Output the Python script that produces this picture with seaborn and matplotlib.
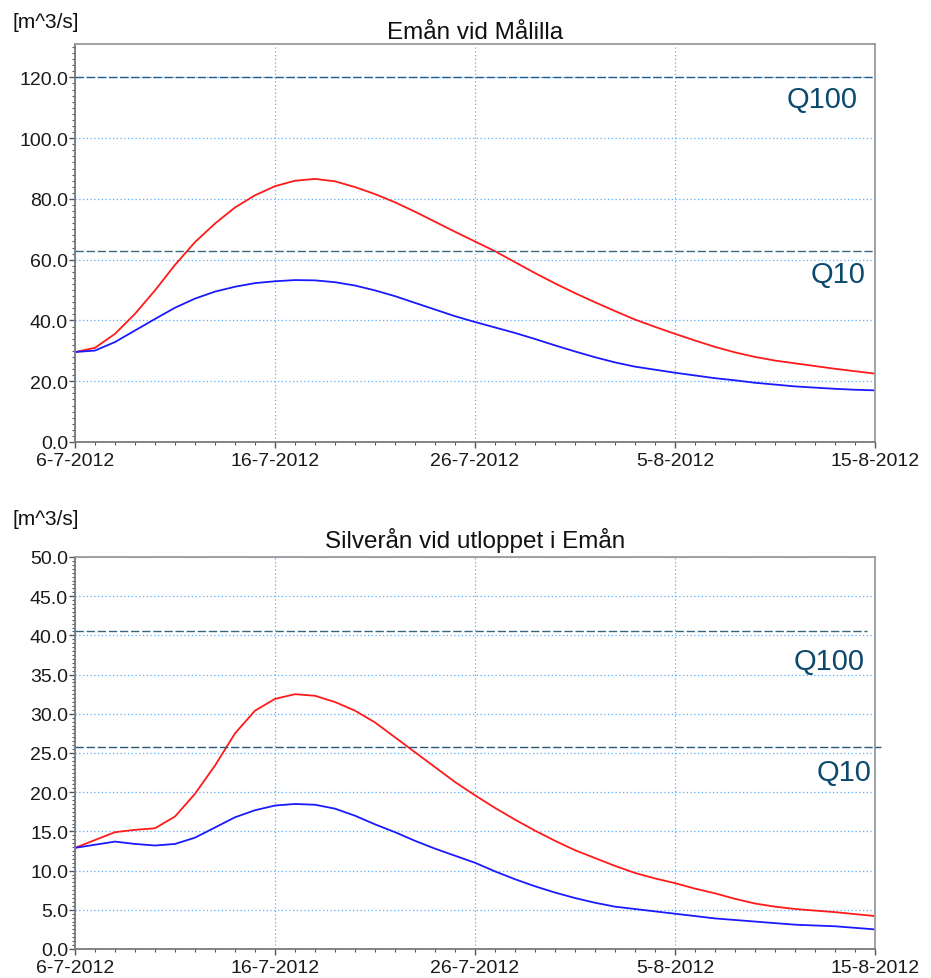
import numpy as np
import pandas as pd
import matplotlib
matplotlib.use("Agg")
import matplotlib.pyplot as plt
from matplotlib.ticker import MultipleLocator, FixedLocator, FixedFormatter
import seaborn as sns

# ---------------- data ----------------
days = list(range(41))  # days since 6-7-2012
tick_days = [0, 10, 20, 30, 40]
tick_labels = ["6-7-2012", "16-7-2012", "26-7-2012", "5-8-2012", "15-8-2012"]

top_title = "Emån vid Målilla"
top_red = [29.6, 31.0, 35.6, 42.2, 49.9, 58.3, 65.8, 71.9, 77.2, 81.2,
           84.2, 86.0, 86.6, 85.8, 83.9, 81.6, 78.9, 75.8, 72.5, 69.2,
           66.0, 62.8, 59.2, 55.6, 52.2, 49.0, 46.0, 43.1, 40.3, 37.9,
           35.6, 33.4, 31.3, 29.5, 28.0, 26.8, 25.9, 25.0, 24.1, 23.3, 22.5]
top_blue = [29.6, 30.1, 32.9, 36.7, 40.5, 44.2, 47.2, 49.5, 51.1, 52.3,
            52.9, 53.3, 53.2, 52.6, 51.5, 49.9, 48.0, 45.8, 43.6, 41.4,
            39.5, 37.7, 35.9, 33.9, 31.8, 29.8, 27.9, 26.2, 24.8, 23.8,
            22.8, 21.9, 21.0, 20.3, 19.5, 18.9, 18.3, 17.9, 17.5, 17.2, 17.0]
top_q100 = 120.0
top_q10 = 62.8

bot_title = "Silverån vid utloppet i Emån"
bot_red = [12.9, 13.9, 14.9, 15.2, 15.4, 16.9, 19.8, 23.4, 27.5, 30.4,
           31.9, 32.5, 32.3, 31.5, 30.4, 28.9, 27.0, 25.1, 23.2, 21.3,
           19.6, 18.0, 16.5, 15.1, 13.8, 12.6, 11.6, 10.6, 9.7, 9.0,
           8.4, 7.7, 7.1, 6.4, 5.8, 5.4, 5.1, 4.9, 4.7, 4.45, 4.2]
bot_blue = [12.9, 13.3, 13.7, 13.4, 13.2, 13.4, 14.2, 15.5, 16.8, 17.7,
            18.3, 18.5, 18.4, 17.9, 17.0, 15.9, 14.9, 13.8, 12.8, 11.9,
            11.0, 9.9, 8.9, 8.0, 7.2, 6.5, 5.9, 5.4, 5.1, 4.8,
            4.5, 4.2, 3.9, 3.7, 3.5, 3.3, 3.1, 3.0, 2.9, 2.7, 2.5]
bot_q100 = 40.6
bot_q10 = 25.8

unit_label = "[m^3/s]"

# ---------------- style ----------------
sns.set_style("white")
plt.rcParams["font.family"] = ["Liberation Sans", "DejaVu Sans"]

fig = plt.figure(figsize=(9.31, 9.79), dpi=100)
ax1 = fig.add_axes([75 / 931, 1 - 443 / 979, 800 / 931, 398 / 979])
ax2 = fig.add_axes([75 / 931, 1 - 950 / 979, 800 / 931, 392 / 979])

palette = {"red": "#ff1a1a", "blue": "#1a1aff"}
grid_color = "#5aaeff"
ref_color = "#3a6680"
qtext_color = "#0b4a6e"


def make_df(red, blue):
    return pd.DataFrame({
        "day": days * 2,
        "flow": red + blue,
        "series": ["red"] * len(red) + ["blue"] * len(blue),
    })


def style_axis(ax, ymax, ymajor, yminor):
    ax.set_xlim(0, 40)
    ax.set_ylim(0, ymax)
    ax.xaxis.set_major_locator(FixedLocator(tick_days))
    ax.xaxis.set_major_formatter(FixedFormatter(tick_labels))
    ax.xaxis.set_minor_locator(MultipleLocator(1))
    ax.yaxis.set_major_locator(MultipleLocator(ymajor))
    ax.yaxis.set_minor_locator(MultipleLocator(yminor))
    ax.yaxis.set_major_formatter(matplotlib.ticker.FormatStrFormatter("%.1f"))
    ax.grid(True, which="major", color=grid_color, linestyle=(0, (1, 2)), linewidth=0.9)
    ax.tick_params(axis="both", which="major", direction="out", length=4, width=1,
                   color="#555555", labelsize=14, pad=1, labelcolor="#1a1a1a")
    ax.tick_params(axis="both", which="minor", direction="out", length=2.5, width=0.8,
                   color="#555555")
    ax.tick_params(axis="x", which="major", pad=3)
    ax.tick_params(bottom=True, left=True, which="both")
    for s in ax.spines.values():
        s.set_color("#9a9a9a")
        s.set_linewidth(1.3)
    ax.spines["left"].set_color("#7a7a7a")
    ax.spines["bottom"].set_color("#7a7a7a")
    ax.set_xlabel("")
    ax.set_ylabel("")


# ---- top panel ----
sns.lineplot(data=make_df(top_red, top_blue), x="day", y="flow", hue="series",
             palette=palette, ax=ax1, legend=False, linewidth=1.3)
style_axis(ax1, 131, 20, 2)
ax1.axhline(top_q100, color="#1f5f8f", linestyle=(0, (6, 2)), linewidth=1.0, zorder=3)
ax1.axhline(top_q10, color=ref_color, linestyle=(0, (6, 2)), linewidth=1.0, zorder=3)
ax1.text(39.15, 112.8, "Q100", ha="right", va="center", fontsize=21, color=qtext_color)
ax1.text(39.55, 55.3, "Q10", ha="right", va="center", fontsize=21, color=qtext_color)

# ---- bottom panel ----
sns.lineplot(data=make_df(bot_red, bot_blue), x="day", y="flow", hue="series",
             palette=palette, ax=ax2, legend=False, linewidth=1.3)
style_axis(ax2, 50, 5, 0.5)
ax2.axhline(bot_q100, xmax=0.99, color=ref_color, linestyle=(0, (6, 2)), linewidth=1.0, zorder=3)
ax2.axhline(bot_q10, xmax=1.008, color="#2a5a78", linestyle=(0, (6, 2)), linewidth=1.0,
            zorder=3, clip_on=False)
ax2.text(39.5, 36.7, "Q100", ha="right", va="center", fontsize=21, color=qtext_color)
ax2.text(39.8, 22.6, "Q10", ha="right", va="center", fontsize=21, color=qtext_color)

# ---- titles and unit labels ----
fig.text(475 / 931, 1 - 33 / 979, top_title, ha="center", va="center", fontsize=17.5, color="#111111")
fig.text(475 / 931, 1 - 541 / 979, bot_title, ha="center", va="center", fontsize=17.5, color="#111111")
fig.text(12 / 931, 1 - 22 / 979, unit_label, ha="left", va="center", fontsize=15, color="#111111")
fig.text(12 / 931, 1 - 520 / 979, unit_label, ha="left", va="center", fontsize=15, color="#111111")

fig.savefig("out.png", dpi=100)
